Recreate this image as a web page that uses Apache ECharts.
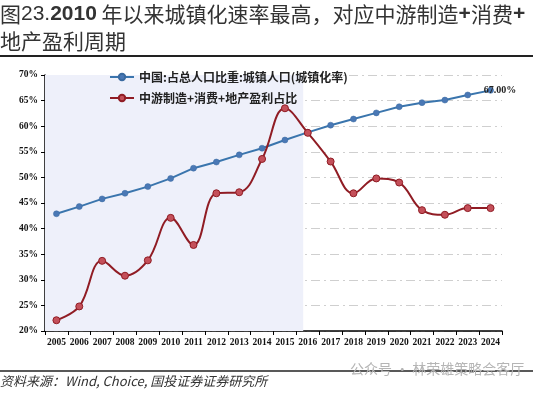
<!DOCTYPE html>
<html>
<head>
<meta charset="utf-8">
<script src="https://cdn.jsdelivr.net/npm/echarts@6/dist/echarts.min.js"></script>
<style>
  html, body { margin: 0; padding: 0; background: #fff; }
  #chart { width: 550px; height: 398px; }
</style>
</head>
<body>
<div id="chart"></div>
<script>
// 年份
var years = ['2005', '2006', '2007', '2008', '2009', '2010', '2011', '2012', '2013', '2014',
  '2015', '2016', '2017', '2018', '2019', '2020', '2021', '2022', '2023', '2024'];
// 中国:占总人口比重:城镇人口(城镇化率)
var urbanRate = [42.9, 44.3, 45.8, 46.9, 48.2, 49.8, 51.8, 53.0, 54.4, 55.7,
  57.3, 58.8, 60.2, 61.4, 62.6, 63.8, 64.6, 65.1, 66.1, 67.0];
// 中游制造+消费+地产盈利占比
var profitShare = [22.1, 24.8, 33.7, 30.8, 33.8, 42.1, 36.8, 46.9, 47.1, 53.6,
  63.5, 58.7, 53.1, 46.9, 49.8, 49.0, 43.6, 42.7, 44.0, 44.0];
// 阴影区间(按年份格数计)
var shadeRange = [0, 11.3];

var serif = '"Liberation Serif", "Noto Sans CJK SC", serif';
var cjk = '"Noto Sans CJK SC", sans-serif';

var chart = echarts.init(document.getElementById('chart'));
var option = {
  animation: false,
  backgroundColor: '#fff',
  title: {
    left: 0,
    top: 1,
    padding: 0,
    text: '{a|图}{c|23.}{b|2010}{a| 年以来城镇化速率最高，对应中游制造}{b|+}{a|消费}{b|+}\n{a|地产盈利周期}',
    textStyle: {
      fontWeight: 'normal',
      rich: {
        a: { fontSize: 21, fontFamily: cjk, fontWeight: 'normal', color: '#333', lineHeight: 27 },
        b: { fontSize: 21, fontFamily: '"Liberation Sans", sans-serif', fontWeight: 'bold', color: '#333', lineHeight: 27 },
        c: { fontSize: 21, fontFamily: '"Liberation Sans", sans-serif', fontWeight: 'normal', color: '#333', lineHeight: 27 }
      }
    }
  },
  graphic: [
    { type: 'line', shape: { x1: 0, y1: 56, x2: 533, y2: 56 }, style: { stroke: '#222', lineWidth: 2 } },
    { type: 'line', shape: { x1: 0, y1: 371, x2: 533, y2: 371 }, style: { stroke: '#222', lineWidth: 1.5 } },
    {
      type: 'text', left: 0, top: 375,
      style: { text: '资料来源：Wind, Choice, 国投证券证券研究所', fontSize: 13, fontStyle: 'italic', fontFamily: cjk, fill: '#333' }
    },
    {
      type: 'text', left: 350, top: 362,
      style: { text: '公众号 · 林荣雄策略会客厅', fontSize: 14, fontFamily: cjk, fill: '#b5b5b5' }
    }
  ],
  legend: {
    orient: 'vertical',
    left: 104,
    top: 66,
    itemGap: 9,
    itemWidth: 24,
    itemHeight: 8,
    textStyle: { fontSize: 12, fontWeight: 'bold', fontFamily: cjk, color: '#222' },
    data: ['中国:占总人口比重:城镇人口(城镇化率)', '中游制造+消费+地产盈利占比']
  },
  grid: { left: 45, right: 48, top: 75, bottom: 67 },
  xAxis: [
    {
      type: 'category',
      data: years,
      boundaryGap: true,
      axisLine: { lineStyle: { color: '#000', width: 1.5 } },
      axisTick: { show: true, alignWithLabel: false, lineStyle: { color: '#000' }, length: 4 },
      axisLabel: { fontSize: 9.5, fontWeight: 'bold', fontFamily: serif, color: '#111', margin: 7, interval: 0 },
      splitLine: { show: false }
    },
    {
      type: 'value',
      min: 0,
      max: years.length,
      show: false
    }
  ],
  yAxis: {
    type: 'value',
    min: 20,
    max: 70,
    interval: 5,
    axisLine: { show: true, lineStyle: { color: '#000', width: 1.5 } },
    axisTick: { show: true, lineStyle: { color: '#000' }, length: 4 },
    axisLabel: { formatter: '{value}%', fontSize: 9.5, fontWeight: 'bold', fontFamily: serif, color: '#111', margin: 7 },
    splitLine: { lineStyle: { color: '#cfcfcf', type: [9, 4, 2, 4], width: 1 } }
  },
  series: [
    {
      name: 'shade',
      type: 'line',
      xAxisIndex: 1,
      data: [],
      silent: true,
      markArea: {
        silent: true,
        itemStyle: { color: '#eef0fa' },
        data: [[{ xAxis: shadeRange[0] }, { xAxis: shadeRange[1] }]]
      },
      z: 0
    },
    {
      name: '中国:占总人口比重:城镇人口(城镇化率)',
      type: 'line',
      data: urbanRate,
      symbol: 'circle',
      symbolSize: 6,
      lineStyle: { color: '#3a75ad', width: 2 },
      itemStyle: { color: '#4a78b5', borderColor: '#3a6aa0', borderWidth: 0.5 },
      label: {
        show: true,
        position: 'right',
        distance: 0,
        offset: [-10, 0],
        fontSize: 10,
        fontWeight: 'bold',
        fontFamily: serif,
        color: '#222',
        formatter: function (p) {
          return p.dataIndex === urbanRate.length - 1 ? p.value.toFixed(2) + '%' : '';
        }
      },
      z: 3
    },
    {
      name: '中游制造+消费+地产盈利占比',
      type: 'line',
      data: profitShare,
      smooth: 0.4,
      symbol: 'circle',
      symbolSize: 7,
      lineStyle: { color: '#901c24', width: 2 },
      itemStyle: { color: '#c4505a', borderColor: '#901c24', borderWidth: 1 },
      z: 4
    }
  ]
};
chart.setOption(option);
</script>
</body>
</html>
